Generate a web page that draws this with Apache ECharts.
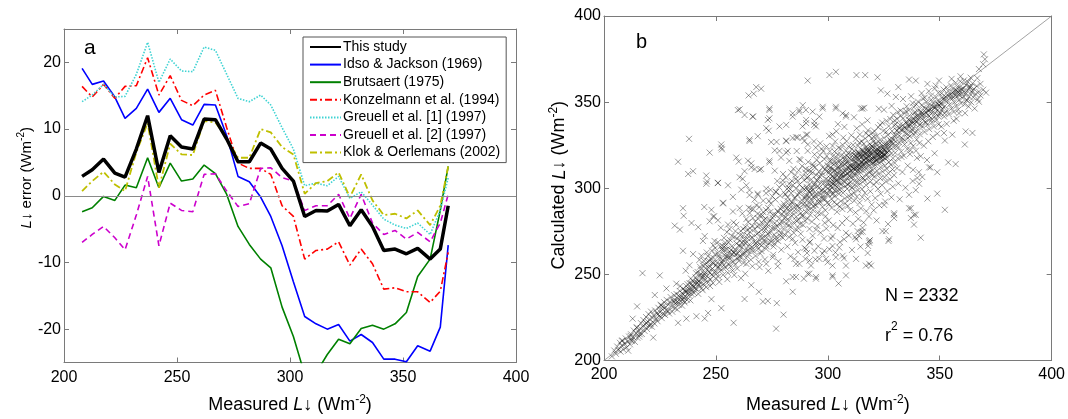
<!DOCTYPE html>
<html>
<head>
<meta charset="utf-8">
<script src="https://cdn.jsdelivr.net/npm/echarts@6/dist/echarts.min.js"></script>
<style>
html,body{margin:0;padding:0;background:#fff;}
#chart{width:1068px;height:419px;}
</style>
</head>
<body>
<div id="chart"></div>
<script>
// ---------- Panel a: L↓ error vs measured L↓ (bin centres) ----------
const xBins = [208,212.5,217.5,222.5,227,232,237,242,247,252,257,262,267,272,277,282,287,291.5,296.5,301.5,306.5,311.5,316.5,321.5,326.5,331.5,336.5,341.5,346.5,351.5,356.5,362,366.5,370];
const thisStudy = [2.9,3.9,5.5,3.4,2.8,7.0,12.0,3.5,9.0,7.3,7.0,11.5,11.4,8.5,5.1,5.1,7.9,7.0,4.1,2.2,-3.1,-2.2,-2.3,-1.3,-4.5,-2.1,-4.6,-8.2,-8.0,-8.7,-7.9,-9.5,-8.0,-1.5];
const idsoJackson = [19.1,16.7,17.2,14.8,11.6,13.1,16.0,12.5,14.6,11.4,10.6,13.7,13.6,9.0,2.9,2.1,-0.2,-3.1,-7.5,-12.9,-18.1,-19.2,-20.0,-19.3,-21.8,-20.8,-22.0,-24.5,-24.5,-24.9,-22.5,-23.3,-19.7,-7.4];
const brutsaert = [-2.4,-1.8,-0.1,-0.7,1.6,1.2,5.7,1.2,4.9,2.2,2.5,4.6,3.3,0.2,-4.6,-7.3,-9.5,-10.8,-16.7,-21.1,-26.8,-26.6,-23.8,-21.5,-22.2,-19.9,-19.4,-20.0,-19.2,-17.5,-12.1,-9.5,-2.2,4.4];
const konzelmann = [16.4,14.8,16.7,14.6,16.4,16.5,20.7,15.1,18.0,14.3,13.5,15.1,15.8,10.2,4.9,4.1,4.1,3.2,-1.5,-3.1,-9.5,-8.2,-8.0,-6.9,-10.4,-8.0,-10.2,-14.0,-13.8,-14.4,-14.4,-16.0,-14.3,-8.5];
const greuell1 = [14.1,15.1,16.7,14.8,14.9,18.2,23.0,17.0,20.5,18.7,18.6,22.3,21.8,18.2,14.6,14.1,15.1,13.6,10.2,7.0,1.5,1.9,1.5,2.9,-0.4,0.6,-1.4,-3.5,-4.4,-4.9,-4.1,-5.8,-2.2,2.7];
const greuell2 = [-7.0,-5.8,-4.6,-6.3,-8.1,-2.9,2.9,-7.5,-1.1,-2.2,-2.4,3.2,3.3,0.7,-1.6,-1.2,4.1,4.2,2.7,2.2,-2.2,-1.5,-1.5,0.2,-3.4,0.2,-4.1,-5.8,-5.2,-6.5,-5.5,-6.9,-4.1,0.2];
const klokOerlemans = [0.7,2.2,3.6,1.7,0.7,6.5,10.9,1.2,7.8,6.2,6.1,11.2,11.0,8.6,5.7,5.7,10.0,9.5,7.3,6.2,0.3,1.9,2.2,3.5,-0.2,3.2,-0.7,-2.9,-2.7,-3.4,-2.2,-4.4,-1.5,4.4];
const seriesNames = ['This study','Idso & Jackson (1969)','Brutsaert (1975)','Konzelmann et al. (1994)','Greuell et al. [1] (1997)','Greuell et al. [2] (1997)','Klok & Oerlemans (2002)'];
const errTicks = [-20,-10,0,10,20];

// ---------- Panel b: calculated vs measured L↓ ----------
const scatterBand200 = [
[203.5,202.4],[204.6,205.8],[205.3,203.9],[205.9,208.1],[206.4,206.2],[207.1,210.3],[207.4,205.1],[207.9,208.7],[208.3,211.6],[208.6,206.4],[209.2,209.9],[209.7,212.8],[210.1,207.6],[210.8,205.7],[210.5,211.1],[211.2,213.9],[211.6,209.4],[212.1,215.2],[212.4,211.3],[212.9,213.6],[213.3,217.4],[213.8,210.8],[214.2,215.9],[214.7,219.3],[214.9,213.2],
[207.9,211.4],[212.3,211.8],[211.9,214.3],[216,215.2],[214.6,219],[212.8,224.3],[214.8,231.4],[217.2,250.7],[222,213.3],
[215.3,216.8],[215.7,213.9],[216.2,218.6],[216.5,221.7],[216.9,215.4],[217.3,219.8],[217.6,223.5],[218.1,217.2],[218.4,220.9],[218.8,225.2],[219.2,218.3],[219.5,222.6],[219.9,226.9],[220.3,220.1],[220.6,223.8],[221.0,228.4],[221.4,219.6],[221.7,224.7],[222.1,226.3],[222.5,221.5],[222.8,229.1],[223.2,224.2],[223.6,227.5],[223.9,222.8],[224.3,230.6],[224.7,225.9],[225.0,228.2],[225.4,232.4],[225.8,224.6],[226.1,229.7],[226.5,227.1],[226.9,233.8],[227.3,226.4],[227.6,230.9],[228.0,235.2],[228.4,228.7],[228.7,232.5],[229.1,227.3],[229.5,234.1],[229.8,236.8],[220.8,221.3],[224.1,226.8],[227.9,229.4],[226.3,231.3],[218.9,221.7],
[222.7,238],[224.9,249.4],[227.9,241.8],[225.5,231.9],
[230.2,231.6],[230.5,228.3],[230.9,234.7],[231.3,237.9],[231.6,230.4],[232.0,233.2],[232.4,238.6],[232.7,229.6],[233.1,235.9],[233.5,232.3],[233.8,240.4],[234.2,234.6],[234.6,237.2],[234.9,231.8],[235.3,241.5],[235.7,236.3],[236.0,233.7],[236.4,239.8],[236.8,243.1],[237.1,235.2],[237.5,240.6],[237.9,237.8],[238.2,244.9],[238.6,234.9],[239.0,241.7],[239.3,238.4],[239.7,246.2],[240.0,242.5],[231.8,235.1],[233.4,237.6],[235.1,238.9],[236.6,240.1],[238.1,241.3],[239.5,243.8],[232.9,234.2],[234.4,236.1],[236.2,237.4],[237.7,239.2],[239.2,240.7],[231.2,233.9],[235.8,234.5],[237.3,244.3],[234.1,243.2],[232.3,244.6],[238.8,247.6],
[233.1,221.9],[236.8,224.3],[235.3,263.7],[239.8,261.8],[235.3,288.4],[235.6,284],[231.6,278.3],[233.9,276],[239.1,279.8],[233.1,315.4],[238,328.7],[237.6,308.3],[239.8,309.9],[236.5,252.1],[238.2,255.3],
[240.3,239.2],[240.6,244.8],[240.9,248.3],[241.2,241.6],[241.5,246.9],[241.8,251.4],[242.1,238.7],[242.4,243.7],[242.7,249.6],[243.0,245.2],[243.3,252.8],[243.6,241.9],[243.9,247.4],[244.2,255.1],[244.5,244.3],[244.8,250.2],[245.1,246.8],[245.4,253.6],[245.7,242.6],[246.0,248.9],[246.3,257.3],[246.6,245.6],[246.9,251.7],[247.2,254.8],[247.5,247.1],[247.8,259.2],[248.1,249.8],[248.4,253.3],[248.7,244.9],[249.0,256.4],[249.3,251.1],[249.6,261.5],[249.9,247.8],[241.1,250.7],[242.9,254.4],[244.6,257.9],[246.4,260.6],[248.2,263.8],[249.7,265.2],[240.7,242.1],[242.3,246.1],[243.8,248.7],[245.3,251.2],[246.8,253.9],[248.5,256.8],[241.6,244.9],[243.4,250.1],[245.2,255.7],[247.0,257.8],[248.9,259.6],[244.1,240.8],[247.4,243.2],[242.6,258.4],[245.9,262.7],[248.8,266.9],
[241.3,225.7],[245,224.4],[246.5,227.6],[248,235.6],[244.2,269.4],[245,272.2],[249.4,269.4],[243.5,260.8],[248,287.5],[249.2,283.7],[248.7,283.6],[247.2,280.8],[245.7,307.4],[245.7,302.6],[246,304],[247.2,320.7],[242.1,277.4],[244.8,289.1]
];
const scatterBand250 = [
[250.2,251.3],[250.5,256.8],[250.8,262.4],[251.1,248.6],[251.4,254.1],[251.7,259.7],[252.0,266.2],[252.3,252.4],[252.6,257.6],[252.9,263.9],[253.2,249.7],[253.5,255.3],[253.8,261.2],[254.1,268.4],[254.4,253.8],[254.7,258.9],[255.0,264.7],[255.3,250.9],[255.6,256.2],[255.9,262.6],[256.2,270.1],[256.5,254.6],[256.8,259.8],[257.1,266.3],[257.4,252.2],[257.7,257.4],[258.0,263.1],[258.3,271.7],[258.6,255.7],[258.9,261.5],[259.2,267.9],[259.5,253.4],[259.8,259.1],[250.6,253.9],[251.9,255.6],[253.3,258.2],[254.6,260.5],[255.8,259.4],[257.2,261.8],[258.5,264.6],[259.7,262.3],[251.3,260.8],[252.8,264.9],[254.3,266.8],[255.7,268.6],[257.1,272.4],[258.7,275.1],[250.9,268.7],[253.6,271.2],[256.1,276.3],[259.1,278.8],[252.2,277.1],[254.9,274.5],[257.9,280.2],[251.5,245.6],[255.1,247.2],[258.2,249.6],[259.4,270.8],[253.9,264.1],[256.7,264.2],
[252.4,230.4],[257.9,221.9],[253.1,266.5],[250.9,281.4],[257.6,286.5],[255.4,278.9],[250.9,303],[255.4,301.7],[253.2,291.2],[257.6,295],[252.4,325.4],[252.7,322.6],[252.4,323.6],[259.1,317.8],[250.9,303.2],[259.8,345.4],[253.2,291.6],
[260.2,257.8],[260.5,263.4],[260.8,269.6],[261.1,275.2],[261.4,260.1],[261.7,265.8],[262.0,272.4],[262.3,256.6],[262.6,262.7],[262.9,268.3],[263.2,277.6],[263.5,259.4],[263.8,265.1],[264.1,270.9],[264.4,280.3],[264.7,261.8],[265.0,267.4],[265.3,274.6],[265.6,258.5],[265.9,264.2],[266.2,271.1],[266.5,282.7],[266.8,263.5],[267.1,268.9],[267.4,276.2],[267.7,260.7],[268.0,266.6],[268.3,273.4],[268.6,285.1],[268.9,264.8],[269.2,270.3],[269.5,278.7],[269.8,262.1],[260.4,266.7],[261.6,268.4],[262.8,270.1],[264.0,272.7],[265.2,276.8],[266.4,278.1],[267.6,280.6],[268.8,282.4],[269.7,284.3],[260.9,272.8],[262.2,276.4],[263.6,282.1],[265.1,285.6],[266.7,287.9],[268.1,290.2],[269.4,289.1],[261.8,285.3],[264.6,288.7],[267.3,293.5],[260.6,260.3],[262.4,261.9],[264.2,263.7],[266.1,265.6],[267.9,268.2],[269.6,267.5],[263.1,250.4],[266.3,254.7],[269.1,257.3],[261.2,247.8],[265.7,288.1],[268.4,277.9],[263.9,275.6],
[262.8,235.7],[265.8,243.7],[269.2,239.9],[263.6,256.1],[269.5,254.2],[260.6,288.4],[260.6,306.4],[263.6,301.7],[265,296],[268.7,296.9],[264.3,316],[265.8,312.1],[260.2,315.5],[260.6,345.8],[262.8,342.5],[266.5,341.6],[264.6,353.9],[266.9,354.9],[268,358.7],[270.2,357.8],[265,327.4],[268.7,330.2],[265.8,314.4],[267.3,311.2],[269.5,310.7],[262.8,309.9],[262,305.5],[261.3,299.2],[265,298.9],[268.7,296.2],[265,328.3],
[270.3,266.8],[270.6,272.9],[270.9,279.4],[271.2,286.1],[271.5,269.2],[271.8,275.6],[272.1,282.3],[272.4,264.9],[272.7,271.4],[273.0,277.8],[273.3,288.6],[273.6,268.1],[273.9,274.3],[274.2,281.7],[274.5,291.2],[274.8,270.6],[275.1,276.9],[275.4,284.5],[275.7,266.2],[276.0,273.1],[276.3,279.8],[276.6,293.4],[276.9,271.7],[277.2,278.2],[277.5,286.9],[277.8,269.4],[278.1,275.3],[278.4,282.6],[278.7,295.7],[279.0,273.8],[279.3,280.4],[279.6,289.3],[279.9,271.2],[270.5,275.8],[271.7,277.3],[272.9,279.1],[274.1,280.9],[275.3,282.8],[276.5,284.6],[277.7,286.3],[278.9,288.1],[270.8,284.2],[272.3,287.4],[273.8,292.6],[275.2,295.3],[276.7,297.9],[278.3,300.6],[279.8,302.4],[271.1,292.8],[274.4,299.1],[277.4,304.2],[270.4,263.5],[272.6,266.3],[274.7,268.9],[276.8,270.2],[278.8,272.4],[271.9,258.7],[275.6,261.4],[279.2,264.3],[273.4,252.1],[277.9,257.6],[270.7,271.3],[273.1,273.6],[275.9,277.1],[278.5,279.5],[272.2,268.9],[276.1,267.8],[279.4,285.2],[274.3,286.2],[271.4,281.6],
[271,234.2],[273.2,234.6],[277.2,233.3],[276.9,218.5],[272.5,256.1],[275.4,259.9],[277.6,254.7],[272.5,299.8],[276.9,297.9],[272.4,297.1],[273.9,315],[276.3,310.2],[273.9,316],[270.2,311.2],[278.4,321.7],[279.1,317.8],[276.3,322],[274.7,326.8],[277.1,326.9],[273.6,333.4],[273.2,339.7],[273.9,345.4],[273.9,346.3],[273.9,340.6],[272.5,334.9],[278.4,335.9],[279.9,304.5],[266.5,341.6],[281.4,336.8],
[280.2,276.4],[280.5,282.7],[280.8,289.5],[281.1,296.3],[281.4,279.1],[281.7,285.4],[282.0,292.6],[282.3,274.8],[282.6,281.3],[282.9,288.2],[283.2,299.4],[283.5,277.6],[283.8,284.1],[284.1,291.3],[284.4,301.8],[284.7,280.2],[285.0,286.9],[285.3,294.7],[285.6,276.3],[285.9,283.5],[286.2,290.1],[286.5,304.2],[286.8,281.7],[287.1,288.4],[287.4,296.9],[287.7,279.3],[288.0,285.6],[288.3,293.2],[288.6,306.7],[288.9,283.8],[289.2,290.6],[289.5,299.3],[289.8,281.2],[280.4,286.1],[281.6,288.3],[282.8,290.2],[284.0,292.1],[285.2,294.1],[286.4,296.2],[287.6,298.2],[288.8,300.3],[280.9,296.8],[282.4,300.5],[283.9,304.3],[285.5,307.6],[287.0,310.4],[288.5,312.9],[289.9,309.2],[281.3,306.2],[284.6,311.3],[287.8,316.4],[280.6,273.2],[282.7,271.6],[284.8,274.1],[286.9,276.8],[289.0,278.6],[281.9,266.2],[285.4,268.3],[288.7,270.1],[283.3,260.5],[286.7,262.9],[289.6,265.4],[280.3,291.1],[282.1,294.6],[283.6,297.2],[285.8,299.8],[287.3,302.1],[289.4,304.6],[281.2,283.1],[283.1,286.6],[284.9,288.9],[286.6,289.7],[288.2,291.4],[289.7,294.5],[282.5,278.4],[286.1,280.9],[288.4,284.2],[284.3,270.7],[287.9,273.6],[281.8,299.6],
[280.2,226.6],[281.4,246],[284.3,248.5],[285.8,256.1],[284.3,239.9],[285.8,248.5],[285.1,259],[282.8,302.6],[285.8,305.5],[282.8,315.9],[281.4,320.7],[282.1,321.7],[283.6,309.3],[287.3,316.9],[286.1,321.6],[281.4,327.3],[284.3,329.2],[286.5,329.6],[288.7,329.2],[285.8,329.6],[289.5,327.4],[281.4,327.7],[288.7,335.9],[284.3,341.6],[284.3,343.5],[287.2,344.4],[287.3,345.4],[288.8,348.2],[280,308.3],[287.3,256.1],[289.3,247.5],
[290.1,286.4],[290.4,292.8],[290.7,299.6],[291.0,306.3],[291.3,288.9],[291.6,295.2],[291.9,302.4],[292.2,284.6],[292.5,291.1],[292.8,298.7],[293.1,309.1],[293.4,287.3],[293.7,294.5],[294.0,301.6],[294.3,312.2],[294.6,290.1],[294.9,296.8],[295.2,304.3],[295.5,285.7],[295.8,293.4],[296.1,300.2],[296.4,314.6],[296.7,291.9],[297.0,298.6],[297.3,307.4],[297.6,289.2],[297.9,295.7],[298.2,303.1],[298.5,316.9],[298.8,293.6],[299.1,300.7],[299.4,309.8],[299.7,291.4],[290.3,296.1],[291.5,298.4],[292.7,300.3],[293.9,302.5],[295.1,304.9],[296.3,306.8],[297.5,308.9],[298.7,311.2],[299.9,313.4],[290.6,305.9],[292.0,309.3],[293.5,312.8],[295.0,316.4],[296.5,319.2],[298.0,321.6],[299.5,318.7],[291.2,315.3],[294.1,319.6],[297.2,322.8],[290.9,282.3],[292.9,280.6],[294.9,283.1],[296.9,285.4],[298.9,287.2],[291.8,276.4],[295.3,278.1],[298.6,279.9],[293.2,272.4],[296.8,274.2],[299.3,276.6],[290.2,294.9],[291.9,297.5],[293.4,299.1],[295.6,301.2],[297.1,303.5],[299.2,305.4],[290.8,290.1],[292.4,293.6],[294.4,295.8],[296.2,297.1],[297.8,299.6],[299.6,302.6],[291.4,287.2],[293.6,289.5],[295.9,291.7],[298.1,293.9],[292.6,305.1],[294.8,307.7],[297.7,312.1],[299.8,296.7],[290.5,300.8],[293.0,296.3],[296.0,309.6],[298.4,297.8],[291.7,310.7],[294.2,290.6],[297.4,294.3],[299.0,283.7],[292.1,268.9],[295.7,266.3],[298.3,270.8],[290.7,262.4],[294.5,258.7],[297.6,262.1],[291.1,325.4],[293.8,327.2],[296.6,326.1],[299.4,324.3],
[291,250.4],[294.7,247.5],[291.8,250.4],[292.5,255.1],[290.3,331.1],[291,321.7],[293.2,314],[294.6,323.6],[290.9,331.1],[293.9,336.8],[294.7,335.9],[290.3,337.8],[293.2,344.5],[296.2,341.6],[297.7,347.3],[294,338.8],[290.3,339.7],[290.2,345.4],[291,362.5],[297.7,346.3],[294.7,276],[294.7,248.5],[290.2,311.2],[296.2,259],[298.4,263.7],[290.3,264.6],[290,259],[291.8,268.4],[291.8,258],[294,263.7],[299.2,259],[299.9,257]
];
const scatterCore300 = [
[300.2,296.4],[300.4,302.8],[300.6,309.3],[300.8,315.7],[301.0,299.1],[301.2,305.6],[301.4,312.2],[301.6,293.8],[301.8,300.4],[302.0,307.1],[302.2,318.6],[302.4,297.2],[302.6,303.9],[302.8,310.5],[303.0,321.3],[303.2,295.4],[303.4,301.7],[303.6,308.4],[303.8,314.9],[304.0,290.6],[304.2,298.8],[304.4,305.2],[304.6,311.8],[304.8,323.5],[305.0,296.7],[305.2,302.9],[305.4,309.6],[305.6,316.3],[305.8,292.5],[306.0,299.8],[306.2,306.4],[306.4,313.1],[306.6,325.2],[306.8,297.3],[307.0,304.1],[307.2,310.8],[307.4,318.4],[307.6,294.1],[307.8,301.2],[308.0,307.9],[308.2,314.6],[308.4,327.3],[308.6,299.6],[308.8,305.8],[309.0,312.4],[309.2,320.1],[309.4,295.7],[309.6,302.8],[309.8,309.5],[300.3,304.7],[301.1,307.8],[301.9,310.9],[302.7,306.2],[303.5,304.3],[304.3,308.9],[305.1,311.5],[305.9,307.7],[306.7,309.2],[307.5,313.8],[308.3,311.1],[309.1,315.6],[309.9,313.2],[300.7,298.9],[301.5,301.3],[302.3,302.6],[303.1,305.8],[303.9,307.2],[304.7,303.6],[305.5,305.9],[306.3,308.1],[307.1,306.6],[307.9,309.9],[308.7,308.4],[309.5,311.7],[300.5,290.8],[301.7,288.6],[302.9,291.9],[304.1,286.3],[305.3,289.4],[306.5,287.9],[307.7,291.2],[308.9,289.7],[309.7,293.6],[300.9,321.4],[302.1,324.6],[303.3,327.1],[304.5,319.7],[305.7,322.9],[306.9,329.4],[308.1,321.8],[309.3,324.3],[300.1,312.7],[301.3,316.1],[302.5,313.8],[303.7,317.9],[304.9,315.3],[306.1,319.2],[307.3,316.7],[308.5,318.9],[309.7,317.4],[300.4,281.3],[302.4,278.6],[304.4,276.9],[306.4,279.8],[308.4,282.4],[301.4,270.8],[305.4,268.7],[309.4,272.6],[303.4,262.7],[307.2,259.3],[300.6,330.4],[303.8,333.1],[307.4,335.6],[305.1,299.3],[306.0,302.3],[307.7,303.8],[308.8,302.1],[302.0,296.3],[303.0,298.6],[304.0,300.8],[301.6,303.2],[303.2,310.3],[304.8,312.6],[306.2,314.4],[308.0,316.2],[309.6,306.9],[300.8,310.4],[302.8,315.4],
[302.1,248.5],[302.1,255.1],[303.6,259.9],[304.8,244.7],[306.6,260.8],[308.1,255.1],[308.1,249.4],[302.1,272.2],[308.1,274.1],[302.1,249.4],[300.7,365.7],[303.6,367.6],[303.6,347.3],[306.6,343.5],[308.1,341.6],[303.6,346.3],[308.1,342.5],[302.1,331.1],[304.5,337.2],[300.7,264.6],[302.1,266.5],[305.1,265.6],[307.3,270.4],
[310.1,303.6],[310.3,309.9],[310.5,316.4],[310.7,322.8],[310.9,300.2],[311.1,306.7],[311.3,313.3],[311.5,319.6],[311.7,297.4],[311.9,304.1],[312.1,310.8],[312.3,317.2],[312.5,328.6],[312.7,301.3],[312.9,307.9],[313.1,314.5],[313.3,321.1],[313.5,298.8],[313.7,305.2],[313.9,311.8],[314.1,318.4],[314.3,331.2],[314.5,302.6],[314.7,309.1],[314.9,315.7],[315.1,322.3],[315.3,299.5],[315.5,306.2],[315.7,312.9],[315.9,319.4],[316.1,325.8],[316.3,304.4],[316.5,310.7],[316.7,317.3],[316.9,323.9],[317.1,301.8],[317.3,308.2],[317.5,314.8],[317.7,321.4],[317.9,333.6],[318.1,306.3],[318.3,312.6],[318.5,319.1],[318.7,325.7],[318.9,303.7],[319.1,310.1],[319.3,316.6],[319.5,323.2],[319.7,329.1],[319.9,307.4],[310.2,313.1],[310.8,312.4],[311.4,316.8],[312.0,315.3],[312.6,318.9],[313.2,317.7],[313.8,320.6],[314.4,319.3],[315.0,318.2],[315.6,321.7],[316.2,320.4],[316.8,319.9],[317.4,322.6],[318.0,321.3],[318.6,322.1],[319.2,320.7],[319.8,324.4],[310.4,306.5],[311.0,309.4],[311.6,311.2],[312.2,307.8],[312.8,312.6],[313.4,310.4],[314.0,313.7],[314.6,312.2],[315.2,314.9],[315.8,316.1],[316.4,314.2],[317.0,317.6],[317.6,316.3],[318.2,318.4],[318.8,315.9],[319.4,319.5],[310.6,296.3],[311.8,292.7],[313.0,295.1],[314.2,291.6],[315.4,294.8],[316.6,297.3],[317.8,293.9],[319.0,298.2],[310.0,287.4],[312.4,285.9],[314.8,288.3],[317.2,286.7],[319.6,290.5],[311.2,279.4],[313.6,282.2],[316.0,280.1],[318.4,283.6],[312.2,271.6],[315.6,274.8],[318.8,269.9],[310.8,264.2],[314.6,266.1],[317.8,262.4],[312.6,259],[319.3,255.1],[318.5,256.1],[317,255.1],[318.5,268.4],[318,266.5],[310.5,330.7],[312.9,334.8],[315.3,337.1],[317.7,339.4],[311.7,341.2],[314.8,346.3],[316.3,346.7],[315.5,346.3],[312.8,365.7],[316.7,365.7],[313.3,275.1],[315.5,277],[314.8,274.5],[318.5,269.4],[310.3,319.8],[311.9,321.5],[313.5,324.7],[315.1,327.3],[316.7,328.9],[318.3,330.6],[319.9,332.2],[311.3,325.2],[314.1,326.4],[317.1,331.9],[310.7,300.4],[313.1,303.4],[315.9,305.7],[318.7,309.2],[312.6,270.4],[314,272.2],
[320.1,310.4],[320.3,316.8],[320.5,323.3],[320.7,329.7],[320.9,306.9],[321.1,313.5],[321.3,319.9],[321.5,326.4],[321.7,303.6],[321.9,310.2],[322.1,316.6],[322.3,323.1],[322.5,335.4],[322.7,308.3],[322.9,314.8],[323.1,321.4],[323.3,327.9],[323.5,305.7],[323.7,312.1],[323.9,318.7],[324.1,325.2],[324.3,338.1],[324.5,309.6],[324.7,316.2],[324.9,322.7],[325.1,329.3],[325.3,306.4],[325.5,313.1],[325.7,319.6],[325.9,326.1],[326.1,332.8],[326.3,311.3],[326.5,317.8],[326.7,324.4],[326.9,330.9],[327.1,308.7],[327.3,315.2],[327.5,321.8],[327.7,328.3],[327.9,340.2],[328.1,313.6],[328.3,320.1],[328.5,326.7],[328.7,333.2],[328.9,310.9],[329.1,317.4],[329.3,323.9],[329.5,330.5],[329.7,336.4],[329.9,314.7],[320.4,318.2],[321.0,317.3],[321.6,320.8],[322.2,319.6],[322.8,318.9],[323.4,321.6],[324.0,320.2],[324.6,323.7],[325.2,322.5],[325.8,324.8],[326.4,321.1],[327.0,325.9],[327.6,324.1],[328.2,327.4],[328.8,325.6],[329.4,328.1],[320.2,313.3],[320.8,315.1],[321.4,316.2],[322.0,321.9],[322.6,320.7],[323.2,317.1],[323.8,315.4],[324.4,318.3],[325.0,319.9],[325.6,317.4],[326.2,320.3],[326.8,322.6],[320.6,302.1],[322.4,299.6],[324.2,301.8],[326.0,303.9],[327.8,305.2],[329.6,307.6],[321.2,294.3],[323.6,296.8],[326.6,298.4],[329.0,300.9],[320.5,287.2],[323.0,290.1],[325.6,292.3],[328.4,294.7],[325.2,290.3],[324.4,275.1],[327.4,270.4],[325.9,275.1],[327.1,269.4],[329.6,284.6],[329.6,282.7],[329.6,285.5],[320.9,333.1],[323.4,336.7],[326.2,339.1],[329.2,342.6],[323.7,356.8],[326.6,354.9],[322.2,364.4],[322.8,346.2],[325.1,345.6],[328.5,347.8],[321.8,281.3],[326.9,279.2],[320.4,327.1],[322.1,330.4],[324.8,333.3],[327.2,336.1],[329.8,339.4],
[330.1,320.6],[330.4,327.1],[330.7,333.5],[331.0,340.2],[331.3,317.4],[331.6,323.9],[331.9,330.4],[332.2,336.8],[332.5,345.1],[332.8,321.3],[333.1,327.8],[333.4,334.2],[333.7,340.7],[334.0,318.9],[334.3,325.4],[334.6,331.9],[334.9,338.3],[335.2,347.6],[335.5,322.7],[335.8,329.1],[336.1,335.6],[336.4,342.1],[336.7,319.8],[337.0,326.3],[337.3,332.7],[337.6,339.2],[337.9,349.4],[338.2,324.6],[338.5,331.1],[338.8,337.5],[339.1,344.2],[339.4,321.8],[339.7,328.3],[330.3,330.8],[331.1,333.4],[331.9,335.1],[332.7,333.9],[333.5,336.6],[334.3,335.2],[335.1,337.8],[335.9,336.7],[336.7,339.4],[337.5,338.1],[338.3,340.6],[339.1,339.3],[339.9,341.8],[330.6,324.2],[331.8,326.7],[333.0,329.3],[334.2,327.9],[335.4,331.6],[336.6,330.2],[337.8,333.9],[339.0,332.4],[330.9,311.6],[333.3,309.4],[335.7,313.1],[338.1,310.7],[331.5,302.8],[334.7,300.3],[337.9,304.2],[332.1,293.6],[336.3,296.2],[339.3,298.9],[336.3,288.4],[339.3,284.6],[337.1,282.7],[338.5,278.9],[337.1,288.4],[338.5,284.6],[331.5,358.7],[330.4,353],[336.3,363.1],[339.3,362.5],[333.6,351.8],[337.2,353.4],[334.8,344.9],[338.4,347.1],[331.2,344.3],[330.2,337.2],[332.4,341.9],[334.4,343.5],[336.2,345.3],[338.6,343.8],[339.6,348.7],[332.9,318.2],[336.9,322.1],[339.8,317.6]
];
const scatterTop340 = [
[340.2,334.1],[340.5,339.8],[340.8,345.6],[341.1,331.3],[341.4,337.2],[341.7,342.9],[342.0,348.4],[342.3,335.6],[342.6,341.3],[342.9,346.8],[343.2,332.7],[343.5,338.5],[343.8,344.2],[344.1,350.1],[344.4,336.9],[344.7,342.6],[345.0,348.2],[345.3,334.3],[345.6,340.1],[345.9,345.7],[346.2,351.4],[346.5,338.2],[346.8,343.9],[347.1,349.5],[347.4,335.8],[347.7,341.4],[348.0,347.1],[348.3,352.8],[348.6,339.6],[348.9,345.2],[349.2,350.9],[349.5,337.1],[349.8,342.8],[340.4,342.1],[341.6,344.3],[342.8,343.2],[344.0,346.1],[345.2,345.2],[346.4,347.9],[347.6,346.6],[348.8,349.3],[349.9,348.1],[340.9,326.2],[342.9,324.7],[344.9,327.3],[346.9,329.8],[348.9,331.7],[341.5,318.6],[344.3,316.4],[347.7,320.3],[341.5,271.3],[342.2,306.5],[340,306],[344.5,294],[345.9,312.1],[348.9,309.3],[348.9,296.9],[340.8,302.6],[345.2,312.1],[340.7,309.3],[344.5,360.6],[349.7,362.5],[341.9,355.2],[345.1,356.4],[347.8,357.9],[343.3,352.6],[346.1,353.8],[349.4,355.4],[340.3,350.3],[342.5,352.1],[348.2,359.6],[349.7,348.2],
[350.2,343.8],[350.5,349.4],[350.8,355.1],[351.1,346.2],[351.4,351.8],[351.7,357.3],[352.0,341.6],[352.3,347.7],[352.6,353.2],[352.9,358.6],[353.2,345.1],[353.5,350.7],[353.8,356.4],[354.1,342.9],[354.4,348.5],[354.7,354.2],[355.0,359.7],[355.3,346.4],[355.6,352.1],[355.9,357.8],[356.2,344.3],[356.5,349.9],[356.8,355.6],[357.1,361.2],[357.4,347.8],[357.7,353.4],[358.0,358.9],[358.3,345.6],[358.6,351.2],[358.9,356.7],[359.2,362.1],[359.5,349.3],[359.8,354.8],[351.3,352.9],[353.6,354.1],[355.8,355.6],[357.9,356.2],[359.6,357.5],[352.4,351.1],[354.6,352.6],[356.9,353.8],[358.8,355.1],[351.9,332.1],[355.6,331.1],[352.3,327.7],[353.8,315],[357.1,314],[352.3,287.5],[355.3,363.5],[359.3,365],[358.6,343.5],[356.2,339.2],[353.1,337.4],[350.7,335.8],[357.5,340.3],
[360.2,352.4],[360.5,357.9],[360.8,362.6],[361.1,348.8],[361.4,354.3],[361.7,359.8],[362.0,351.1],[362.3,356.6],[362.6,361.7],[362.9,347.4],[363.2,353.1],[363.5,358.7],[363.8,364.2],[364.1,349.9],[364.4,355.5],[364.7,360.9],[365.0,352.8],[365.3,357.6],[365.6,346.3],[366.0,354.7],[366.5,359.3],[367.0,351.6],[367.5,356.1],[368.2,360.6],[368.2,353.9],[369.4,357.2],[363.7,358.7],[362.2,351.1],[361.6,333],[364.6,332.1],[361.2,325.4],[369.7,377.7],[370.2,374.9],[369.4,372],[367.5,369.2],[370.7,355.5],[367.5,350.2],[366.8,363.9],[361.3,343.6]
];
const scatterDense = [
[311.5,312.3],[312.2,314.8],[312.9,311.6],[313.6,316.2],[314.3,313.4],[315.0,317.9],[315.7,314.1],[316.4,318.6],[317.1,315.3],[317.8,319.8],[318.5,316.4],[319.2,320.9],[319.9,317.2],[320.6,321.5],[321.3,318.7],[322.0,322.8],[322.7,319.4],[323.4,323.3],[324.1,320.6],[324.8,318.1],[325.5,321.9],[313.1,309.7],[314.8,310.8],[316.6,312.2],[318.3,313.5],[320.1,314.6],[321.8,316.3],[323.6,317.8],[325.3,319.2],[312.4,318.9],[314.2,320.4],[316.0,321.7],[317.9,323.1],[319.7,324.6],[321.5,325.4],[323.3,326.2],
[335.4,334.2],[336.8,336.9],[338.2,335.1],[339.6,338.4],[341.0,336.7],[342.4,340.1],[343.8,338.3],[345.2,341.9],[346.6,340.2],[348.0,343.6],[349.4,341.8],[350.8,345.3],[352.2,343.5],[336.1,339.8],[339.0,341.6],[342.0,343.4],[344.9,345.1],[347.9,346.8],[350.9,348.4],
[355.9,353.2],[357.3,356.8],[358.7,354.1],[360.1,357.6],[361.5,355.3],[362.9,358.9],[364.3,356.2],
[236.2,240.8],[241.8,245.3],[247.3,250.9],[252.7,256.8],[258.1,262.4],[263.4,268.1],[268.7,273.9],[239.0,244.6],[244.6,249.1],[250.0,255.3],[255.4,260.7],[260.8,266.2],[266.1,271.7]
];
const scatterPoints = scatterBand200.concat(scatterBand250, scatterCore300, scatterTop340, scatterDense);
const oneToOne = [[200,200],[400,400]];

// ---------- chart ----------
const FONT = '"Liberation Sans", Arial, Helvetica, sans-serif';
const chart = echarts.init(document.getElementById('chart'), null, {renderer: 'canvas'});
const axisGrey = '#7a7a7a';
function richFor(size, supSize) {
  return {
    n: {fontSize: size, fontFamily: FONT, color: '#000', lineHeight: size + 5},
    i: {fontSize: size, fontFamily: FONT, fontStyle: 'italic', color: '#000', lineHeight: size + 5},
    s: {fontSize: supSize, fontFamily: FONT, color: '#000', lineHeight: supSize, verticalAlign: 'top'}
  };
}
function baseAxis(extra) {
  return Object.assign({
    type: 'value',
    axisLine: {show: true, onZero: false, lineStyle: {color: axisGrey, width: 1}},
    axisTick: {show: true, inside: true, length: 5, lineStyle: {color: axisGrey, width: 1}},
    axisLabel: {color: '#000', fontSize: 16, fontFamily: FONT},
    splitLine: {show: false}
  }, extra);
}
const lineStyles = [
  {color: '#000000', width: 3.5, type: 'solid'},
  {color: '#0000ff', width: 1.6, type: 'solid'},
  {color: '#008000', width: 1.6, type: 'solid'},
  {color: '#ff0000', width: 1.6, type: [7, 3, 2, 3]},
  {color: '#3fd3d3', width: 1.6, type: [1.5, 1.5]},
  {color: '#cc00cc', width: 1.6, type: [6, 4]},
  {color: '#bfbf00', width: 1.8, type: [7, 3, 2, 3]}
];
const lineArrays = [thisStudy, idsoJackson, brutsaert, konzelmann, greuell1, greuell2, klokOerlemans];
const lineSeries = lineArrays.map((arr, i) => {
  const s = {
    name: seriesNames[i],
    type: 'line',
    xAxisIndex: 0, yAxisIndex: 0,
    data: xBins.map((x, k) => [x, arr[k]]),
    symbol: 'none',
    lineStyle: lineStyles[i],
    itemStyle: {color: lineStyles[i].color},
    z: i === 0 ? 5 : 3,
    silent: true,
    clip: true
  };
  if (i === 0) {
    s.markLine = {
      silent: true, symbol: 'none', label: {show: false},
      lineStyle: {color: '#8a8a8a', width: 1, type: 'solid'},
      data: [{yAxis: 0}]
    };
  }
  return s;
});

const option = {
  animation: false,
  backgroundColor: '#fff',
  grid: [
    {left: 64, top: 29, width: 452, height: 344},
    {left: 604, top: 16, width: 449, height: 351}
  ],
  xAxis: [
    baseAxis({gridIndex: 0, position: 'bottom', min: 200, max: 400, interval: 50,
      axisLabel: {color: '#000', fontSize: 16, fontFamily: FONT, margin: 7},
      name: '{n|Measured }{i|L}{n|↓ (Wm}{s|-2}{n|)}', nameLocation: 'middle', nameGap: 31,
      nameTextStyle: {rich: richFor(18, 12)}}),
    baseAxis({gridIndex: 0, position: 'top', min: 200, max: 400, interval: 50, axisLabel: {show: false}}),
    baseAxis({gridIndex: 1, position: 'bottom', min: 200, max: 400, interval: 50,
      axisLabel: {color: '#000', fontSize: 16, fontFamily: FONT, margin: 6},
      name: '{n|Measured }{i|L}{n|↓ (Wm}{s|-2}{n|)}', nameLocation: 'middle', nameGap: 33,
      nameTextStyle: {rich: richFor(18, 12)}}),
    baseAxis({gridIndex: 1, position: 'top', min: 200, max: 400, interval: 50, axisLabel: {show: false}})
  ],
  yAxis: [
    baseAxis({gridIndex: 0, position: 'left', min: -25, max: 25,
      axisTick: {show: true, inside: true, length: 5, lineStyle: {color: axisGrey}, customValues: errTicks},
      axisLabel: {color: '#000', fontSize: 16, fontFamily: FONT, margin: 3, customValues: errTicks},
      name: '{i|L}{n|↓ error (Wm}{s|-2}{n|)}', nameLocation: 'middle', nameRotate: 90, nameGap: 24,
      nameTextStyle: {rich: richFor(15, 10), padding: [0, 0, 0, 36]}}),
    baseAxis({gridIndex: 0, position: 'right', min: -25, max: 25,
      axisTick: {show: true, inside: true, length: 5, lineStyle: {color: axisGrey}, customValues: errTicks},
      axisLabel: {show: false}}),
    baseAxis({gridIndex: 1, position: 'left', min: 200, max: 400, interval: 50,
      axisLabel: {color: '#000', fontSize: 16, fontFamily: FONT, margin: 3},
      name: '{n|Calculated }{i|L}{n|↓ (Wm}{s|-2}{n|)}', nameLocation: 'middle', nameRotate: 90, nameGap: 33,
      nameTextStyle: {rich: richFor(18, 12), padding: [0, 0, 0, 6]}}),
    baseAxis({gridIndex: 1, position: 'right', min: 200, max: 400, interval: 50, axisLabel: {show: false}})
  ],
  legend: {
    data: seriesNames,
    orient: 'vertical',
    left: 303, top: 37,
    padding: [3, 6, 3, 6],
    itemWidth: 31, itemHeight: 14, itemGap: 3.6,
    backgroundColor: '#fff',
    borderColor: '#555', borderWidth: 1, borderRadius: 0,
    selectedMode: false,
    itemStyle: {opacity: 0},
    textStyle: {fontSize: 14, fontFamily: FONT, color: '#000', padding: [0, 0, 0, -3]}
  },
  graphic: [
    {type: 'text', left: 84, top: 38, style: {text: 'a', fontSize: 21, fontFamily: FONT, fill: '#000'}},
    {type: 'text', left: 636, top: 32, style: {text: 'b', fontSize: 20, fontFamily: FONT, fill: '#000'}},
    {type: 'text', left: 885, top: 287, style: {text: 'N = 2332', fontSize: 18, fontFamily: FONT, fill: '#000'}},
    {type: 'text', left: 885, top: 321, style: {
      text: '{n|r}{s|2}{n| = 0.76}',
      rich: {
        n: {fontSize: 18, fontFamily: FONT, fill: '#000', lineHeight: 24, verticalAlign: 'bottom'},
        s: {fontSize: 12, fontFamily: FONT, fill: '#000', lineHeight: 12, verticalAlign: 'top'}
      }}}
  ],
  series: lineSeries.concat([
    {
      type: 'line', xAxisIndex: 2, yAxisIndex: 2, data: oneToOne, symbol: 'none', silent: true,
      lineStyle: {color: '#8c8c8c', width: 0.8}, z: 1
    },
    {
      type: 'scatter', xAxisIndex: 2, yAxisIndex: 2, data: scatterPoints, silent: true,
      symbol: 'path://M0,0L10,10M0,10L10,0', symbolSize: 6,
      itemStyle: {color: 'rgba(0,0,0,0)', borderColor: 'rgba(0,0,0,0.55)', borderWidth: 0.9},
      z: 2
    }
  ])
};
chart.setOption(option);
</script>
</body>
</html>
